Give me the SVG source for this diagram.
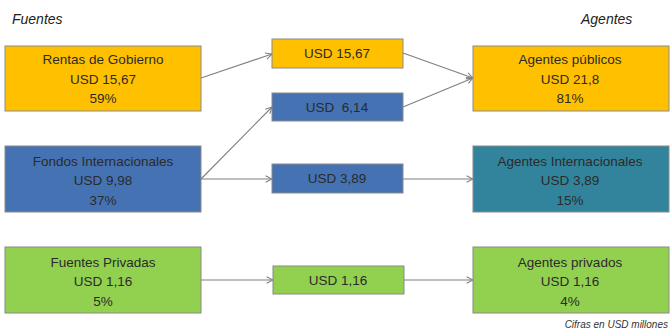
<svg xmlns="http://www.w3.org/2000/svg" width="670" height="332" viewBox="0 0 670 332">
<style>
  .box { stroke: #8a8a8a; stroke-width: 1; }
  .y { fill: #FFC000; }
  .b { fill: #4472B2; }
  .t { fill: #31849B; }
  .g { fill: #92D050; }
  text { font-family: "Liberation Sans", Arial, sans-serif; font-size: 13.5px; fill: #2b2b2b; text-anchor: middle; }
  .hdr { font-style: italic; font-size: 14px; text-anchor: start; fill: #222; }
  .note { font-style: italic; font-size: 10px; text-anchor: end; fill: #333; }
  .conn line { stroke: #7f7f7f; stroke-width: 1.1; marker-end: url(#arr); }
</style>
<defs>
  <marker id="arr" viewBox="0 0 10 10" refX="9" refY="5" markerWidth="8" markerHeight="8" markerUnits="userSpaceOnUse" orient="auto">
    <path d="M1,1 L9,5 L1,9" fill="none" stroke="#7f7f7f" stroke-width="1.3"/>
  </marker>
</defs>
<rect width="670" height="332" fill="#ffffff"/>
<text class="hdr" x="12" y="24">Fuentes</text>
<text class="hdr" x="581" y="24">Agentes</text>

<g class="conn">
  <line x1="201" y1="78" x2="272" y2="54"/>
  <line x1="403" y1="53" x2="473" y2="78"/>
  <line x1="403" y1="107" x2="473" y2="78"/>
  <line x1="201" y1="179" x2="272" y2="107"/>
  <line x1="201" y1="179" x2="272" y2="179"/>
  <line x1="403" y1="179" x2="473" y2="179"/>
  <line x1="201" y1="280" x2="273" y2="280"/>
  <line x1="404" y1="280" x2="473" y2="280"/>
</g>

<g id="rentas">
  <rect class="box y" x="5" y="46" width="196" height="65"/>
  <text x="103" y="64">Rentas de Gobierno</text>
  <text x="103" y="84">USD 15,67</text>
  <text x="103" y="103">59%</text>
</g>
<g id="fondos">
  <rect class="box b" x="5" y="146" width="196" height="66"/>
  <text x="103" y="166">Fondos Internacionales</text>
  <text x="103" y="185">USD 9,98</text>
  <text x="103" y="205">37%</text>
</g>
<g id="privadas">
  <rect class="box g" x="5" y="247" width="196" height="66"/>
  <text x="103" y="267">Fuentes Privadas</text>
  <text x="103" y="286">USD 1,16</text>
  <text x="103" y="306">5%</text>
</g>

<g id="m1">
  <rect class="box y" x="272" y="39" width="131" height="29"/>
  <text x="337" y="58">USD 15,67</text>
</g>
<g id="m2">
  <rect class="box b" x="272" y="93" width="131" height="28"/>
  <text x="337" y="112">USD&#160; 6,14</text>
</g>
<g id="m3">
  <rect class="box b" x="272" y="164" width="131" height="29"/>
  <text x="337" y="183">USD 3,89</text>
</g>
<g id="m4">
  <rect class="box g" x="273" y="266" width="131" height="28"/>
  <text x="338" y="285">USD 1,16</text>
</g>

<g id="publicos">
  <rect class="box y" x="473" y="46" width="196" height="65"/>
  <text x="570" y="64">Agentes públicos</text>
  <text x="570" y="84">USD 21,8</text>
  <text x="570" y="103">81%</text>
</g>
<g id="internacionales">
  <rect class="box t" x="473" y="146" width="196" height="66"/>
  <text x="570" y="166">Agentes Internacionales</text>
  <text x="570" y="185">USD 3,89</text>
  <text x="570" y="205">15%</text>
</g>
<g id="privados">
  <rect class="box g" x="473" y="247" width="196" height="66"/>
  <text x="570" y="267">Agentes privados</text>
  <text x="570" y="286">USD 1,16</text>
  <text x="570" y="306">4%</text>
</g>

<text class="note" x="668" y="328">Cifras en USD millones</text>
</svg>
